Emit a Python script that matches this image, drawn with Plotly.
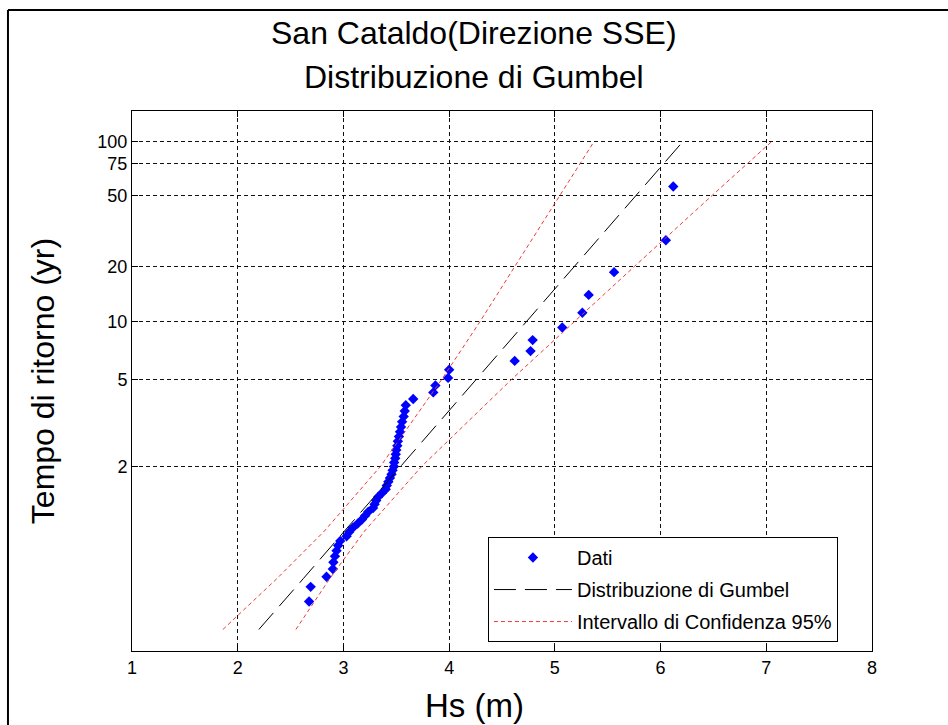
import numpy as np
import plotly.graph_objects as go

# measured wave heights Hs (m), largest first
hs = [6.12, 6.05, 5.56, 5.32, 5.26, 5.07, 4.79, 4.77, 4.62, 4.00,
      3.99, 3.87, 3.85, 3.66, 3.59, 3.58, 3.57, 3.555, 3.545, 3.535,
      3.525, 3.515, 3.51, 3.50, 3.495, 3.49, 3.48, 3.478, 3.465, 3.455,
      3.44, 3.425, 3.41, 3.40, 3.365, 3.33, 3.31, 3.295, 3.28, 3.235,
      3.205, 3.175, 3.135, 3.09, 3.055, 3.03, 2.97, 2.95, 2.935, 2.92,
      2.905, 2.90, 2.84, 2.69, 2.675]
# plotting return period (yr) of each point
t_ret = [56.0, 28.0, 18.667, 14.0, 11.2, 9.333, 8.0, 7.0, 6.222, 5.6,
         5.091, 4.667, 4.308, 4.0, 3.733, 3.5, 3.294, 3.111, 2.947, 2.8,
         2.667, 2.545, 2.435, 2.333, 2.24, 2.154, 2.074, 2.0, 1.931, 1.867,
         1.806, 1.75, 1.697, 1.647, 1.6, 1.556, 1.514, 1.474, 1.436, 1.4,
         1.366, 1.333, 1.302, 1.273, 1.244, 1.217, 1.191, 1.167, 1.143, 1.12,
         1.098, 1.077, 1.057, 1.037, 1.018]

# fitted distribution and 95% band (non-exceedance probability vs Hs)
p_line = [0.003, 0.01, 0.05, 0.2, 0.5, 0.8, 0.9, 0.95, 0.98, 0.99]
hs_fit = [2.20, 2.35, 2.62, 3.01, 3.54, 4.26, 4.73, 5.18, 5.77, 6.21]
hs_low = [1.86, 2.04, 2.37, 2.82, 3.35, 3.93, 4.29, 4.62, 5.05, 5.37]
hs_high = [2.55, 2.66, 2.87, 3.20, 3.74, 4.59, 5.18, 5.75, 6.49, 7.05]

t_ticks = [2, 5, 10, 20, 50, 75, 100]
x_ticks = [1, 2, 3, 4, 5, 6, 7, 8]


def gumbel(p):
    # reduced variate of the Gumbel paper
    return -np.log(-np.log(np.asarray(p, dtype=float)))


def from_T(t):
    return gumbel(1 - 1 / np.asarray(t, dtype=float))


FONT = "Liberation Sans, Arial, sans-serif"

fig = go.Figure()

fig.add_trace(go.Scatter(
    x=hs, y=from_T(t_ret), mode="markers", name="Dati", legendgroup="dati",
    marker=dict(symbol="diamond", size=8, color="#0000ff"),
))
fig.add_trace(go.Scatter(
    x=hs_fit, y=gumbel(p_line), mode="lines", name="Distribuzione di Gumbel",
    legendgroup="fit",
    line=dict(color="#000000", width=1, dash="22px,9px"),
))
fig.add_trace(go.Scatter(
    x=hs_low, y=gumbel(p_line), mode="lines", name="Intervallo di Confidenza 95%",
    legendgroup="ci", line=dict(color="#ee3b3b", width=1, dash="4px,3px"),
))
fig.add_trace(go.Scatter(
    x=hs_high, y=gumbel(p_line), mode="lines", showlegend=False,
    legendgroup="ci", line=dict(color="#ee3b3b", width=1, dash="4px,3px"),
))

axis_style = dict(
    showline=True, linecolor="#000000", linewidth=1, mirror="ticks",
    ticks="inside", ticklen=6, tickcolor="#000000",
    showgrid=True, gridcolor="#111111", gridwidth=1, griddash="4px,3px",
    zeroline=False, tickfont=dict(family=FONT, size=18, color="#000000"),
)

fig.update_xaxes(range=[1, 8], tickvals=x_ticks, **axis_style)
fig.update_yaxes(
    range=[-2.04, 5.0], tickvals=from_T(t_ticks), ticktext=[str(t) for t in t_ticks],
    title=dict(text="Tempo di ritorno (yr)",
               font=dict(family=FONT, size=32, color="#000000"), standoff=33),
    **axis_style,
)

fig.update_layout(
    width=948, height=725,
    margin=dict(l=132, r=76, t=111, b=74),
    paper_bgcolor="#ffffff", plot_bgcolor="#ffffff",
    font=dict(family=FONT, color="#000000"),
    showlegend=True,
    legend=dict(
        x=0.481, y=0.211, xanchor="left", yanchor="top",
        bgcolor="#ffffff", bordercolor="#000000", borderwidth=1,
        font=dict(family=FONT, size=20, color="#000000"),
        itemwidth=78, tracegroupgap=3,
    ),
    annotations=[
        dict(text="San Cataldo(Direzione SSE)", xref="paper", yref="paper",
             x=0.4622, y=1.144, yanchor="middle", showarrow=False,
             font=dict(family=FONT, size=32, color="#000000")),
        dict(text="Distribuzione di Gumbel", xref="paper", yref="paper",
             x=0.4622, y=1.063, yanchor="middle", showarrow=False,
             font=dict(family=FONT, size=32, color="#000000")),
        dict(text="Hs (m)", xref="paper", yref="paper",
             x=0.4622, y=-0.1, yanchor="middle", showarrow=False,
             font=dict(family=FONT, size=33, color="#000000")),
    ],
    shapes=[
        # outer frame of the figure
        dict(type="line", xref="paper", yref="paper", x0=-0.1676, x1=1.2,
             y0=1.187, y1=1.187, line=dict(color="#000000", width=2)),
        dict(type="line", xref="paper", yref="paper", x0=-0.1676, x1=-0.1676,
             y0=1.187, y1=-0.2, line=dict(color="#000000", width=2)),
    ],
)

# drop the default page margin so the figure sits at the window corner
fig.write_html(
    "out.html",
    config={"displayModeBar": False},
    post_script="document.body.style.margin='0';"
                "document.body.style.overflow='hidden';",
)
